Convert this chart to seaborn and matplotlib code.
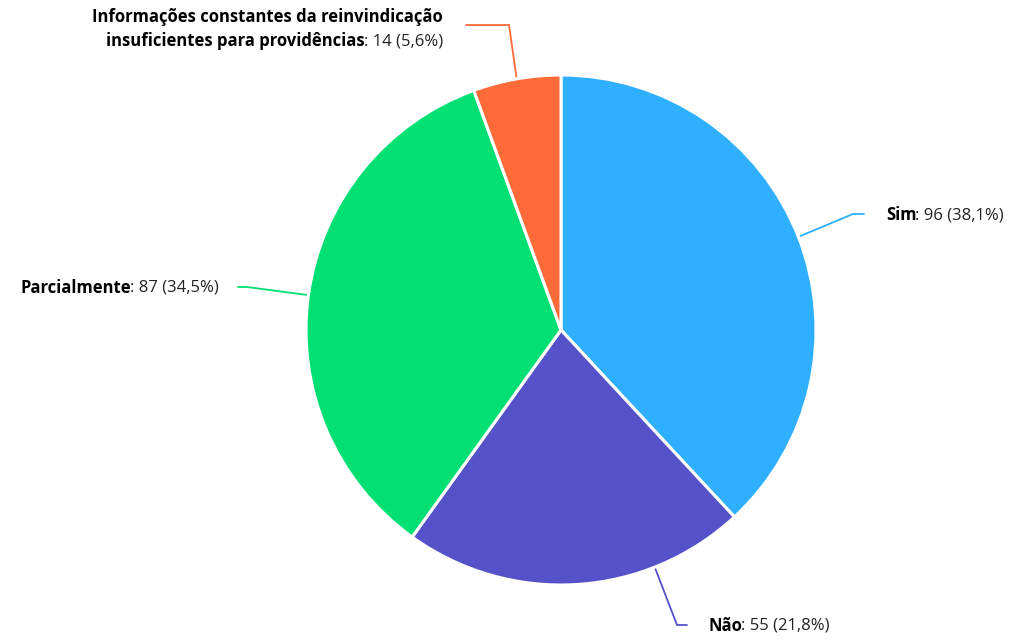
import numpy as np
import matplotlib
matplotlib.use("Agg")
import matplotlib.pyplot as plt
import seaborn as sns

# dados do gráfico
labels = ["Sim", "Não", "Parcialmente",
          "Informações constantes da reinvindicação\ninsuficientes para providências"]
values = [96, 55, 87, 14]
pcts = ["38,1%", "21,8%", "34,5%", "5,6%"]
colors = ["#2EAFFF", "#5551C8", "#02E074", "#FF6B38"]

sns.set_theme(style="white")
plt.rcParams["font.family"] = ["Open Sans", "DejaVu Sans"]

W, H = 1013, 641
fig = plt.figure(figsize=(W / 100, H / 100), dpi=100)
ax = fig.add_axes([0, 0, 1, 1])
ax.set_xlim(0, W)
ax.set_ylim(0, H)
ax.axis("off")

cx, cy, r = 561, H - 330, 255
wedges, _ = ax.pie(values, colors=sns.color_palette(colors), startangle=90,
                   counterclock=False, center=(cx, cy), radius=r,
                   wedgeprops=dict(edgecolor="white", linewidth=2.2))
ax.set_xlim(0, W)
ax.set_ylim(0, H)

# layout dos rótulos: deslocamento do ângulo, cotovelo, fim da linha, posição do texto
layout = [
    dict(shift=0, elbow=(853, 214), end=(864, 214), text=(886, 215), side="left"),
    dict(shift=18, elbow=(677, 625), end=(687, 625), text=(708, 626), side="left"),
    dict(shift=0, elbow=(247, 287), end=(238, 287), text=(219, 288), side="right"),
    dict(shift=0, elbow=(509, 25), end=(466, 25), text=(443, 29), side="right"),
]

fs = 12
fig.canvas.draw()
rend = fig.canvas.get_renderer()
for w, lab, v, p, lay, col in zip(wedges, labels, values, pcts, layout, colors):
    ang = np.deg2rad((w.theta1 + w.theta2) / 2 + lay["shift"])
    x0, y0 = cx + r * np.cos(ang), cy + r * np.sin(ang)
    ex, ey = lay["elbow"][0], H - lay["elbow"][1]
    fx, fy = lay["end"][0], H - lay["end"][1]
    ax.plot([x0, ex, fx], [y0, ey, fy], color=col, lw=1.3, zorder=0)
    tx, ty = lay["text"][0], H - lay["text"][1]
    rest = f": {v} ({p})"
    lines = lab.split("\n")
    n = len(lines)
    step = 24
    for i, line in enumerate(lines):
        yy = ty + (n - 1) * step / 2 - i * step
        last = i == n - 1
        if lay["side"] == "left":
            t = ax.text(tx, yy, line, fontsize=fs, fontweight="bold",
                        ha="left", va="center", color="black")
            bb = t.get_window_extent(rend)
            if last:
                ax.text(bb.x1 - 1, yy, rest, fontsize=fs, ha="left", va="center", color="#222222")
        else:
            xr = tx
            if last:
                t2 = ax.text(tx, yy, rest, fontsize=fs, ha="right", va="center", color="#222222")
                bb = t2.get_window_extent(rend)
                xr = bb.x0 + 1
            ax.text(xr, yy, line, fontsize=fs, fontweight="bold",
                    ha="right", va="center", color="black")

fig.savefig("out.png", dpi=100)
